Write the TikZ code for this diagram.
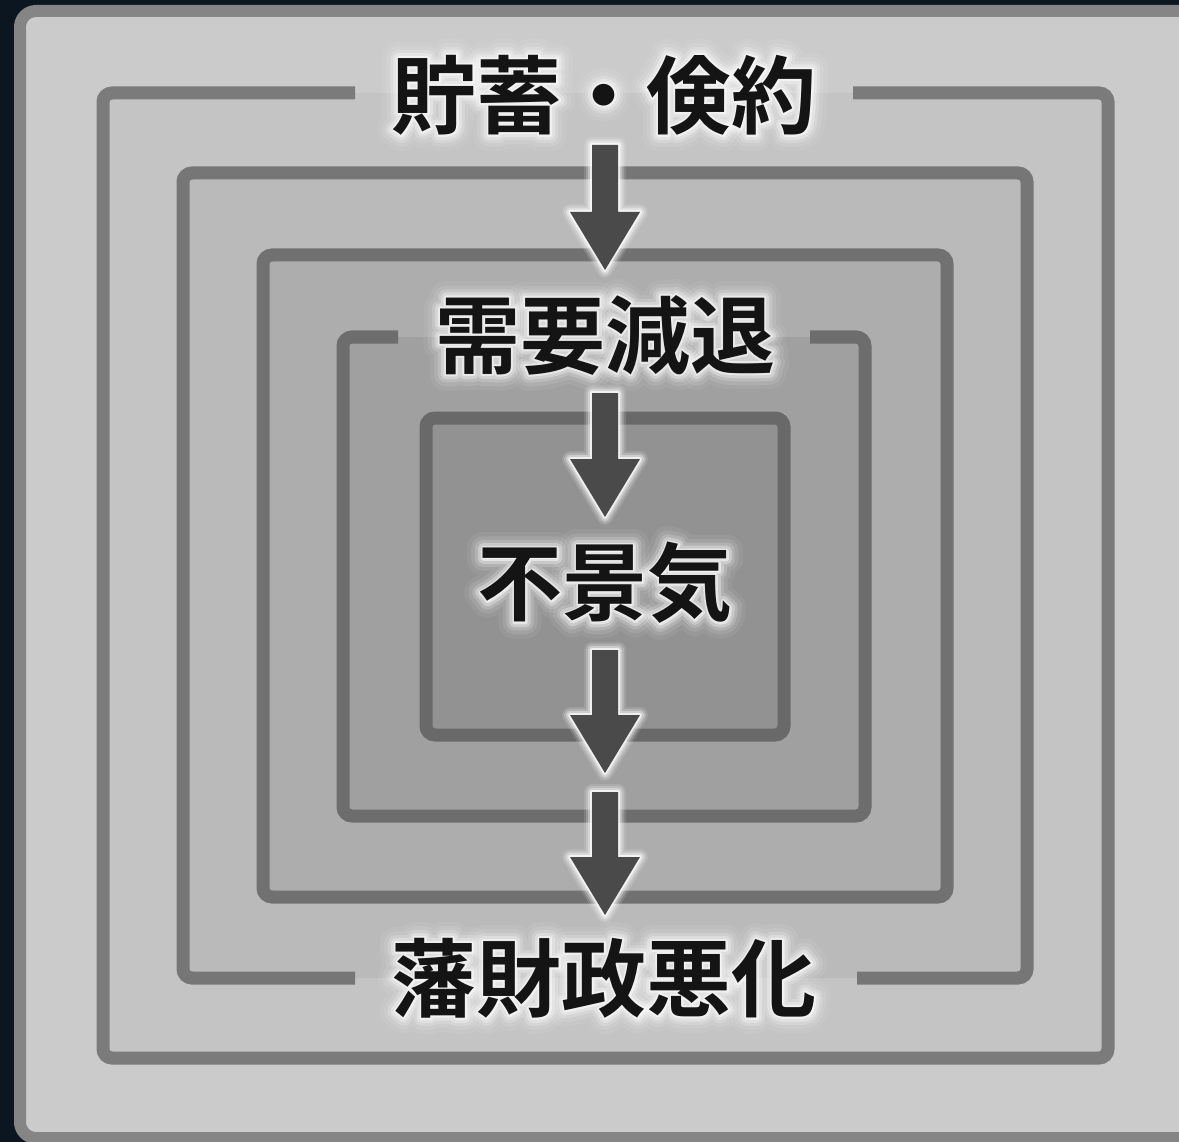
\documentclass[tikz,border=0pt]{standalone}
\usepackage{fontspec}
\newfontfamily\jpb{Noto Sans CJK JP Bold}
\newfontfamily\glowA{Noto Sans CJK JP Bold}[FakeBold=5]
\newfontfamily\glowB{Noto Sans CJK JP Bold}[FakeBold=12]
\newfontfamily\glowC{Noto Sans CJK JP Bold}[FakeBold=19]
\newfontfamily\glowD{Noto Sans CJK JP Bold}[FakeBold=28]
\newfontfamily\glowE{Noto Sans CJK JP Bold}[FakeBold=38]
\usetikzlibrary{calc}
\definecolor{bgdark}{HTML}{0C1620}
\definecolor{panelfill}{HTML}{CBCBCB}
\definecolor{panelline}{HTML}{858585}
\definecolor{fillA}{HTML}{C4C4C4}
\definecolor{fillB}{HTML}{BABABA}
\definecolor{fillC}{HTML}{ADADAD}
\definecolor{fillD}{HTML}{A0A0A0}
\definecolor{fillE}{HTML}{929292}
\definecolor{lineA}{HTML}{7B7B7B}
\definecolor{lineB}{HTML}{767676}
\definecolor{lineC}{HTML}{717171}
\definecolor{lineD}{HTML}{6D6D6D}
\definecolor{lineE}{HTML}{696969}
\definecolor{arrowfill}{HTML}{4A4A4A}
\tikzset{
  txt/.style={font=\jpb\fontsize{85}{85}\selectfont, inner sep=0pt, text=black!92},
  glowtxt/.style={inner sep=0pt, text=white, line join=round},
  frameline/.style={line width=13pt, rounded corners=9pt},
}
\newcommand\glowlabel[3]{%
  \node[glowtxt, opacity=0.06, font=\glowE\fontsize{85}{85}\selectfont] at (#2) {#3};
  \node[glowtxt, opacity=0.10, font=\glowD\fontsize{85}{85}\selectfont] at (#2) {#3};
  \node[glowtxt, opacity=0.18, font=\glowC\fontsize{85}{85}\selectfont] at (#2) {#3};
  \node[glowtxt, opacity=0.30, font=\glowB\fontsize{85}{85}\selectfont] at (#2) {#3};
  \node[glowtxt, opacity=0.50, font=\glowA\fontsize{85}{85}\selectfont] at (#2) {#3};
  \node[txt] (#1) at (#2) {#3};
}
\newcommand\blockarrow[2]{%
  \foreach \ww/\oo in {16/0.12,12/0.2,8/0.35,4/0.7}{%
    \draw[white, opacity=\oo, line width=\ww pt, line join=round]
      ($(#1)+(-13,0)$) -- ($(#2)+(-13,-58)$) -- ($(#2)+(-35,-58)$) -- (#2)
      -- ($(#2)+(35,-58)$) -- ($(#2)+(13,-58)$) -- ($(#1)+(13,0)$) -- cycle;
  }
  \fill[arrowfill]
      ($(#1)+(-13,0)$) -- ($(#2)+(-13,-58)$) -- ($(#2)+(-35,-58)$) -- (#2)
      -- ($(#2)+(35,-58)$) -- ($(#2)+(13,-58)$) -- ($(#1)+(13,0)$) -- cycle;
}
\begin{document}
\begin{tikzpicture}[x=1pt,y=-1pt]
\useasboundingbox (0,0) rectangle (1179,1142);
\fill[bgdark] (-5,-5) rectangle (1190,1150);
% panel
\draw[panelline, fill=panelfill, line width=12pt, rounded corners=16pt] (20,11) rectangle (1200,1138);
% square 1 (gap at top)
\fill[fillA, rounded corners=9pt] (103,93) rectangle (1108,1058);
\draw[lineA, frameline] (853,93) -- (1108,93) -- (1108,1058) -- (103,1058) -- (103,93) -- (355,93);
% square 2 (gap at bottom)
\fill[fillB, rounded corners=9pt] (183,173) rectangle (1027,978);
\draw[lineB, frameline] (355,978) -- (183,978) -- (183,173) -- (1027,173) -- (1027,978) -- (857,978);
% square 3
\fill[fillC, rounded corners=9pt] (263,255) rectangle (947,897);
\draw[lineC, frameline] (263,255) rectangle (947,897);
% square 4 (gap at top)
\fill[fillD, rounded corners=9pt] (343,337) rectangle (865,816);
\draw[lineD, frameline] (810,337) -- (865,337) -- (865,816) -- (343,816) -- (343,337) -- (398,337);
% square 5
\fill[fillE, rounded corners=9pt] (426,418) rectangle (784,735);
\draw[lineE, frameline] (426,418) rectangle (784,735);
% arrow anchor coordinates
\coordinate (a1s) at (605,145);
\coordinate (a1e) at (605,270);
\coordinate (a2s) at (605,393);
\coordinate (a2e) at (605,517);
\coordinate (a3s) at (605,650);
\coordinate (a3e) at (605,773);
\coordinate (a4s) at (605,792);
\coordinate (a4e) at (605,915);
\blockarrow{a1s}{a1e}
\blockarrow{a2s}{a2e}
\blockarrow{a3s}{a3e}
\blockarrow{a4s}{a4e}
% labels
\coordinate (p1) at (604,95);
\coordinate (p2) at (605,335);
\coordinate (p3) at (605,583);
\coordinate (p4) at (604,978);
\glowlabel{t1}{p1}{貯蓄・倹約}
\glowlabel{t2}{p2}{需要減退}
\glowlabel{t3}{p3}{不景気}
\glowlabel{t4}{p4}{藩財政悪化}
\end{tikzpicture}
\end{document}
